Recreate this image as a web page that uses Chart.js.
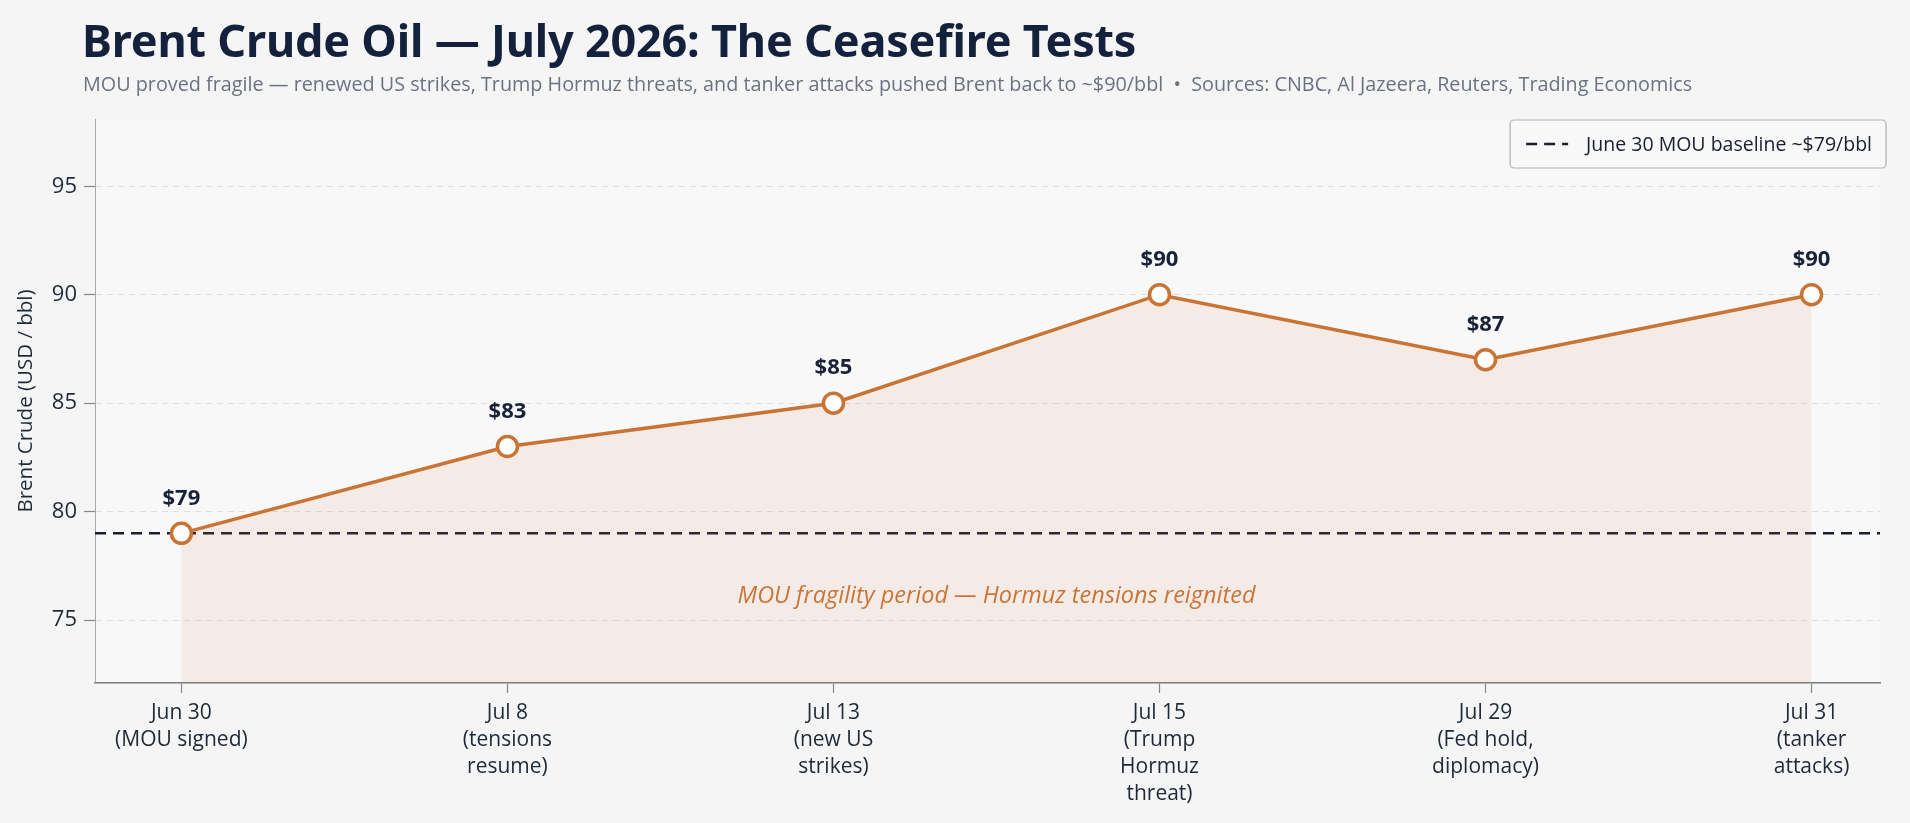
<!DOCTYPE html>
<html>
<head>
<meta charset="utf-8">
<script src="https://cdn.jsdelivr.net/npm/chart.js@4.4.1/dist/chart.umd.min.js"></script>
<style>
  html, body { margin: 0; padding: 0; background: #f5f5f5; }
  #wrap { position: relative; width: 1910px; height: 823px; }
  #title { position: absolute; left: 82px; top: 9px; font-family: "Noto Sans", "Open Sans", sans-serif; font-weight: 700; font-size: 45px; color: #14213d; white-space: nowrap; letter-spacing: -0.2px; }
  #subtitle { position: absolute; left: 83px; top: 70px; font-family: "Open Sans", "Noto Sans", sans-serif; font-size: 19.8px; color: #6b7280; white-space: nowrap; }
  canvas { position: absolute; left: 0; top: 0; }
</style>
</head>
<body>
<div id="wrap">
  <canvas id="c" width="1910" height="823"></canvas>
  <div id="title">Brent Crude Oil — July 2026: The Ceasefire Tests</div>
  <div id="subtitle">MOU proved fragile — renewed US strikes, Trump Hormuz threats, and tanker attacks pushed Brent back to ~$90/bbl &nbsp;•&nbsp; Sources: CNBC, Al Jazeera, Reuters, Trading Economics</div>
</div>
<script>
// ---- Data ----
const dates = ["Jun 30", "Jul 8", "Jul 13", "Jul 15", "Jul 29", "Jul 31"];
const events = [["(MOU signed)"], ["(tensions", "resume)"], ["(new US", "strikes)"], ["(Trump", "Hormuz", "threat)"], ["(Fed hold,", "diplomacy)"], ["(tanker", "attacks)"]];
const prices = [79, 83, 85, 90, 87, 90];
const priceLabels = ["$79", "$83", "$85", "$90", "$87", "$90"];
const baselineValue = 79;
const baselineLabel = "June 30 MOU baseline ~$79/bbl";
const yTicks = [75, 80, 85, 90, 95];
const yTitle = "Brent Crude (USD / bbl)";
const periodNote = "MOU fragility period — Hormuz tensions reignited";
const periodNoteAt = { x: 2.5, y: 76.1 };

const ORANGE = "#c97435";
const NAVY = "#14213d";

const overlayPlugin = {
  id: "overlay",
  beforeDraw(chart) {
    const { ctx, chartArea } = chart;
    ctx.save();
    ctx.fillStyle = "#f8f8f8";
    ctx.fillRect(chartArea.left, chartArea.top, chartArea.right - chartArea.left, chartArea.bottom - chartArea.top);
    ctx.restore();
  },
  beforeDatasetsDraw(chart) {
    const { ctx, chartArea, scales } = chart;
    // annotation text
    ctx.save();
    ctx.fillStyle = ORANGE;
    ctx.font = "italic 23.5px 'Open Sans', 'Noto Sans', sans-serif";
    ctx.textAlign = "center";
    ctx.textBaseline = "middle";
    ctx.fillText(periodNote, scales.x.getPixelForValue(periodNoteAt.x), scales.y.getPixelForValue(periodNoteAt.y));
    ctx.restore();
    // baseline dashed line
    const y = scales.y.getPixelForValue(baselineValue);
    ctx.save();
    ctx.strokeStyle = "#1a1f2e";
    ctx.lineWidth = 2.6;
    ctx.setLineDash([11, 7]);
    ctx.beginPath();
    ctx.moveTo(chartArea.left, y);
    ctx.lineTo(chartArea.right, y);
    ctx.stroke();
    ctx.restore();
  },
  afterDatasetsDraw(chart) {
    const { ctx, chartArea } = chart;
    const meta = chart.getDatasetMeta(0);
    ctx.save();
    ctx.fillStyle = "#1a2238";
    ctx.font = "bold 22px 'Open Sans', 'Noto Sans', sans-serif";
    ctx.textAlign = "center";
    ctx.textBaseline = "middle";
    meta.data.forEach((pt, i) => {
      ctx.fillText(priceLabels[i], pt.x, pt.y - 35);
    });
    ctx.restore();
    // legend box
    ctx.save();
    ctx.font = "19.5px 'Open Sans', 'Noto Sans', sans-serif";
    const tw = ctx.measureText(baselineLabel).width;
    const boxW = tw + 90, boxH = 48;
    const bx = chartArea.right + 6 - boxW, by = chartArea.top + 1;
    ctx.fillStyle = "#f8f8f8";
    ctx.strokeStyle = "#b0b0b0";
    ctx.lineWidth = 1.2;
    ctx.beginPath();
    ctx.roundRect(bx, by, boxW, boxH, 4);
    ctx.fill();
    ctx.stroke();
    ctx.strokeStyle = "#1a1f2e";
    ctx.lineWidth = 2.6;
    ctx.setLineDash([11, 7]);
    ctx.beginPath();
    ctx.moveTo(bx + 16, by + boxH / 2);
    ctx.lineTo(bx + 58, by + boxH / 2);
    ctx.stroke();
    ctx.setLineDash([]);
    ctx.fillStyle = "#1a1f2e";
    ctx.textAlign = "left";
    ctx.textBaseline = "middle";
    ctx.fillText(baselineLabel, bx + 76, by + boxH / 2 + 1);
    ctx.restore();
  }
};

new Chart(document.getElementById("c"), {
  type: "line",
  data: {
    datasets: [{
      label: "Brent",
      data: prices.map((v, i) => ({ x: i, y: v })),
      borderColor: ORANGE,
      borderWidth: 3.5,
      backgroundColor: "rgba(214,130,90,0.10)",
      fill: "start",
      tension: 0,
      pointRadius: 10,
      pointBorderWidth: 3.5,
      pointBackgroundColor: "#ffffff",
      pointBorderColor: ORANGE
    }]
  },
  options: {
    responsive: false,
    animation: false,
    layout: { padding: { top: 119, right: 30, left: 0, bottom: 0 } },
    plugins: { legend: { display: false }, tooltip: { enabled: false } },
    scales: {
      x: {
        type: "linear",
        min: -0.265,
        max: 5.21,
        afterBuildTicks: (axis) => { axis.ticks = dates.map((d, i) => ({ value: i })); },
        afterFit: (axis) => { axis.height = 140; },
        ticks: {
          autoSkip: false,
          maxRotation: 0,
          color: "#1f2937",
          font: { family: "'Open Sans', sans-serif", size: 21, lineHeight: 1.29 },
          padding: 6,
          callback: (v) => [dates[v], ...events[v]]
        },
        grid: { drawOnChartArea: false, drawTicks: true, tickLength: 10, tickColor: "#888", tickWidth: 1.2 },
        border: { color: "#7a7a7a", width: 1.6 }
      },
      y: {
        min: 72.1,
        max: 98.1,
        afterBuildTicks: (axis) => { axis.ticks = yTicks.map(v => ({ value: v })); },
        afterFit: (axis) => { axis.width = 95; },
        title: { display: true, text: yTitle, color: "#1f2937", font: { family: "'Open Sans', sans-serif", size: 20.5 }, padding: { top: 14, bottom: 0 } },
        ticks: { color: "#1f2937", font: { family: "'Open Sans', sans-serif", size: 22 }, padding: 7 },
        grid: { color: "#dedede", lineWidth: 1, tickBorderDash: [], tickLength: 11, tickColor: "#888", tickWidth: 1.2 },
        border: { color: "#aaa", width: 1, dash: [6, 5] }
      }
    }
  },
  plugins: [overlayPlugin]
});
</script>
</body>
</html>
